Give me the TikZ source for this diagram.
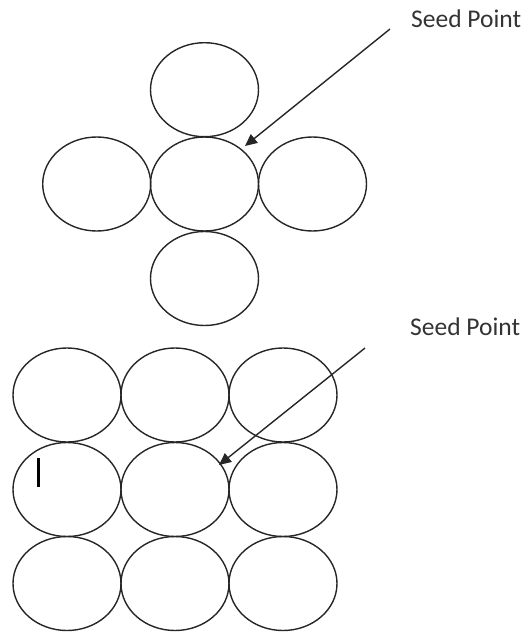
\documentclass[tikz,border=0pt]{standalone}
\usepackage{fontspec}
\setmainfont{Carlito}
\usetikzlibrary{shapes.geometric,arrows.meta}
\tikzset{
  cell/.style={draw=black!85, ellipse, line width=1.4pt, minimum width=108pt, minimum height=94pt, inner sep=0pt},
  lbl/.style={anchor=base west, inner sep=0pt, font=\fontsize{25.5}{30}\selectfont, text=black!80},
  pointer/.style={draw=black!85, line width=1.4pt, -{Triangle[length=12pt,width=11pt]}}
}
\begin{document}
\begin{tikzpicture}[x=1pt,y=-1pt]
\useasboundingbox (0,0) rectangle (526,632);
% top cross
\node[cell] (t)  at (204.5,89.7) {};
\node[cell] (l)  at (96.7,184) {};
\node[cell] (c)  at (204.5,184) {};
\node[cell] (r)  at (312.5,184) {};
\node[cell] (b)  at (204.5,278.5) {};
\node[lbl] (s1) at (411,27) {Seed Point};
\coordinate (a1s) at (390,29);
\coordinate (a1e) at (245,146);
\draw[pointer] (a1s) -- (a1e);
% bottom grid
\foreach \i/\x in {1/67,2/175,3/283}{
  \foreach \j/\y in {1/395,2/489.5,3/583.5}{
    \node[cell] (g\i\j) at (\x,\y) {};
  }
}
\node[lbl] (s2) at (410,335) {Seed Point};
\coordinate (a2s) at (365,348);
\coordinate (a2e) at (219,465);
\draw[pointer] (a2s) -- (a2e);
% cursor mark
\coordinate (m1) at (38,458);
\coordinate (m2) at (38,487);
\draw[line width=3pt] (m1) -- (m2);
\end{tikzpicture}
\end{document}
